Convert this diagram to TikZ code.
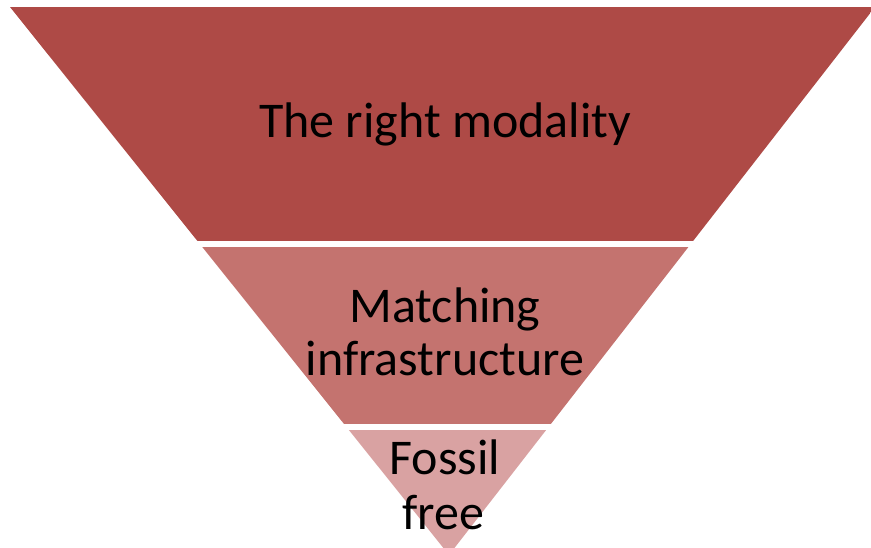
\documentclass[tikz,border=0pt]{standalone}
\usepackage{fontspec}
\setmainfont{Carlito}
\definecolor{banddark}{RGB}{174,74,70}
\definecolor{bandmid}{RGB}{196,115,111}
\definecolor{bandlight}{RGB}{217,162,162}
\begin{document}
\begin{tikzpicture}[x=1pt,y=-1pt,
  lbl/.style={align=center,inner sep=0pt,text=black,font=\fontsize{50}{53}\selectfont}]
\useasboundingbox (0,0) rectangle (871,547);
\coordinate (tl) at (10,7);
\coordinate (tr) at (875,7);
\coordinate (apex) at (449,555);
\begin{scope}
  \clip (0,0) rectangle (871,547);
  \clip (tl) -- (tr) -- (apex) -- cycle;
  \fill[banddark] (0,0) rectangle (900,241);
  \fill[bandmid] (0,247) rectangle (900,424);
  \fill[bandlight] (0,430) rectangle (900,560);
\end{scope}
\node[lbl,anchor=base] (t1) at (445,137) {The right modality};
\node[lbl,anchor=base] (t2a) at (445,322) {Matching};
\node[lbl,anchor=base] (t2b) at (445,375) {infrastructure};
\node[lbl,anchor=base] (t3a) at (445,474) {Fossil};
\node[lbl,anchor=base] (t3b) at (443,529) {free};
\end{tikzpicture}
\end{document}
